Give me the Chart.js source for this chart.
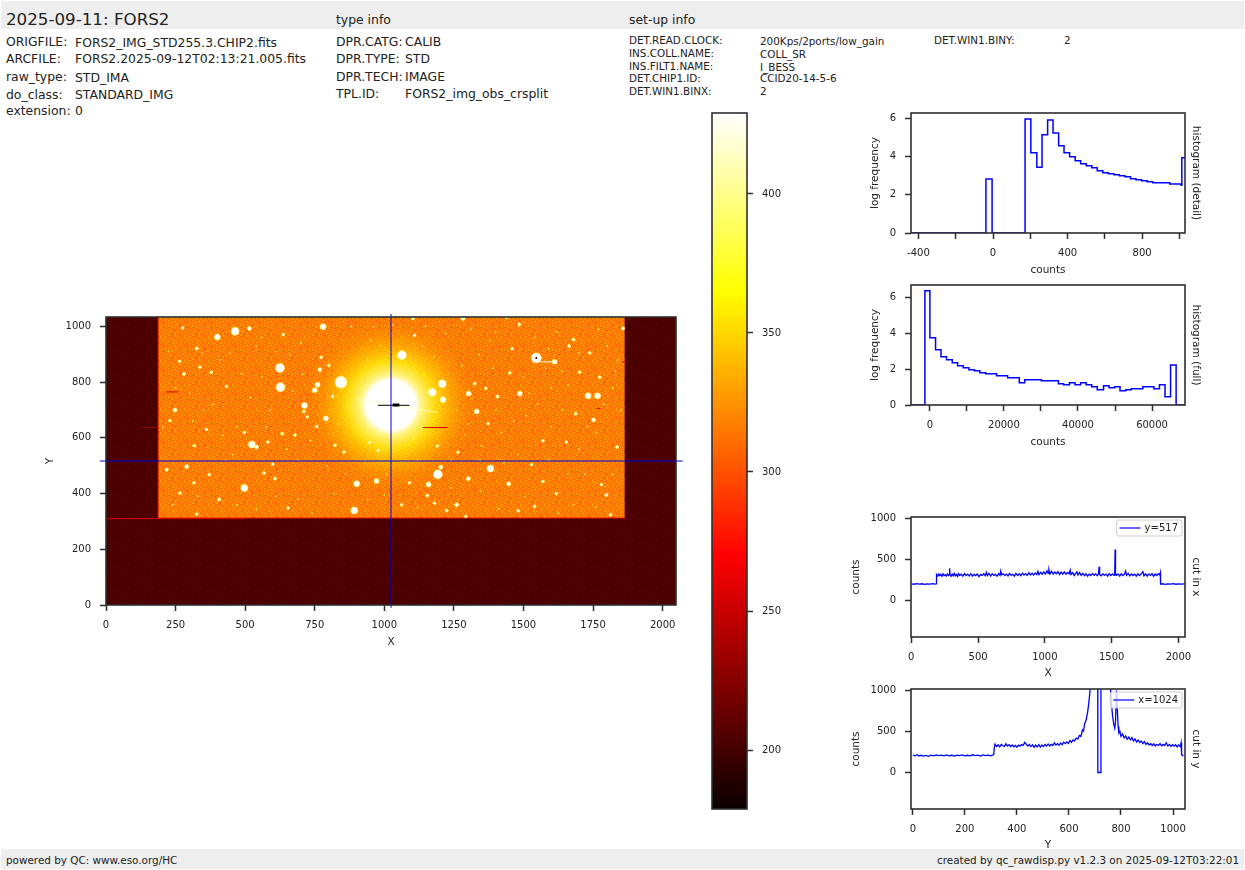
<!DOCTYPE html>
<html>
<head>
<meta charset="utf-8">
<script src="https://cdn.jsdelivr.net/npm/chart.js@4"></script>
<style>
html,body{margin:0;padding:0;background:#fff;width:1245px;height:870px;overflow:hidden;font-family:"DejaVu Sans",sans-serif;color:#222}
canvas{position:absolute}
.bar{position:absolute;left:1px;width:1243px;background:#eeeeee}
.t{position:absolute;white-space:pre;line-height:1}
</style>
</head>
<body>
<div class="bar" style="top:1px;height:28px"></div>
<div class="bar" style="top:849px;height:20px"></div>
<div id="texts"></div>
<canvas id="imagePlot"></canvas>
<canvas id="colorbar"></canvas>
<canvas id="histDetail"></canvas>
<canvas id="histFull"></canvas>
<canvas id="cutX"></canvas>
<canvas id="cutY"></canvas>
<script>
// texts of the header and footer
const headerTexts = [
  [6,18,16.7,'2025-09-11: FORS2'],[336,19,12.4,'type info'],[629,19,12.4,'set-up info'],
  [6,41,12.4,'ORIGFILE:'],[75,42,12.4,'FORS2_IMG_STD255.3.CHIP2.fits'],
  [6,58,12.4,'ARCFILE:'],[75,58,12.4,'FORS2.2025-09-12T02:13:21.005.fits'],
  [6,76,12.4,'raw_type:'],[75,77,12.4,'STD_IMA'],
  [6,94,12.4,'do_class:'],[75,94,12.4,'STANDARD_IMG'],
  [6,110,12.4,'extension:'],[75,110,12.4,'0'],
  [336,41,12.4,'DPR.CATG:'],[405,41,12.4,'CALIB'],
  [336,58,12.4,'DPR.TYPE:'],[405,58,12.4,'STD'],
  [336,76,12.4,'DPR.TECH:'],[405,76,12.4,'IMAGE'],
  [336,93,12.4,'TPL.ID:'],[405,93,12.4,'FORS2_img_obs_crsplit'],
  [629,39,10.4,'DET.READ.CLOCK:'],[760,40,10.4,'200Kps/2ports/low_gain'],
  [629,52,10.4,'INS.COLL.NAME:'],[760,53,10.4,'COLL_SR'],
  [629,65,10.4,'INS.FILT1.NAME:'],[760,66,10.4,'I_BESS'],
  [629,77,10.4,'DET.CHIP1.ID:'],[760,77,10.4,'CCID20-14-5-6'],
  [629,90,10.4,'DET.WIN1.BINX:'],[760,90,10.4,'2'],
  [934,39,10.4,'DET.WIN1.BINY:'],[1064,39,10.4,'2'],
  [6,859,10.4,'powered by QC: www.eso.org/HC']
];
const footerRight = 'created by qc_rawdisp.py v1.2.3 on 2025-09-12T03:22:01';

// image panel
const imageXTicks = [0,250,500,750,1000,1250,1500,1750,2000];
const imageYTicks = [0,200,400,600,800,1000];
const chipCorners = [[0,1034],[2048,1034]];
const chipBase = 0;
const litCorners = [[187,1034],[1864,1034]];
const litBase = 312;
const cutRow = 517;
const cutColumn = 1024;
const crossRow = [[-22,517],[2072,517]];
const crossColumn = [[1024,-10],[1024,1045]];
const glowCentre = [[1024,718]];
// [x, y, peak counts]
const stars = [
  [464,983,4800],[400,962,2400],[515,993,1200],[780,999,2400],[625,851,6800],[627,782,6800],[844,800,19000],
  [760,791,1700],[750,771,1700],[768,845,1200],[713,716,2400],[790,670,1700],[711,695,900],[248,700,1200],
  [280,830,900],[326,921,900],[338,854,800],[524,576,3400],[541,567,1200],[290,497,1200],[218,486,900],
  [497,420,3400],[901,435,2400],[972,445,1700],[892,339,3400],[407,379,900],[607,454,900],[582,585,800],
  [317,572,800],[633,615,800],[361,630,800],[723,675,800],[433,785,800],[378,836,800],[637,971,800],
  [326,326,800],[654,348,800],[568,474,800],[599,506,800],[371,468,800],[266,402,800],[316,439,800],
  [275,995,800],[265,875,800],[230,662,800],[801,860,800],[773,889,800],[814,749,800],[758,641,800],
  [679,610,800],[497,620,800],[855,549,800],[948,584,800],[823,573,800],[978,555,800],
  [1063,897,6800],[1208,794,4800],[1172,764,4800],[1211,737,2400],[1303,759,1700],[1332,695,1700],
  [1487,759,1700],[1546,887,9600],[1612,873,1700],[1732,751,2400],[1766,751,2400],[1752,665,1200],
  [1688,687,900],[1192,469,6800],[1159,433,1700],[1203,495,1200],[1381,490,3400],[1302,453,1200],
  [1447,435,1200],[1260,360,1200],[1155,393,900],[1837,567,900],[1798,395,900],[1780,432,800],
  [1485,1007,900],[1680,953,900],[1664,930,900],[1738,905,800],[1459,920,800],[1407,749,900],
  [1283,1029,1200],[1103,1029,900],[1439,1032,800],[1858,993,900],[1529,504,800],[1224,339,800],
  [1540,354,800],[1618,400,800],[1570,443,800],[1570,590,800],[1108,968,800],[1325,795,800],[1365,778,800],
  [1451,833,800],[1702,836,800],[1774,818,800],[1191,571,800],[1265,548,800],[1373,651,800],[1654,585,800],
  [1813,324,800],[1481,338,800],[1293,318,800],[1091,439,800],[1062,360,800],[1181,366,800]
];
const faintStars = [
  [205,640],[300,760],[352,700],[410,880],[445,905],[470,640],[520,745],[560,820],[590,700],[660,900],
  [690,520],[240,360],[330,390],[430,520],[470,360],[540,345],[610,390],[690,380],[740,330],[820,400],
  [860,470],[930,520],[1000,395],[1120,350],[1240,420],[1290,610],[1350,570],[1420,620],[1480,540],
  [1510,680],[1550,720],[1600,640],[1640,700],[1700,560],[1720,470],[1680,360],[1760,350],[1820,470],
  [1840,880],[1800,930],[1620,980],[1540,960],[1400,980],[1340,900],[1280,860],[1390,850],[1500,820],
  [1660,790],[1820,780],[1850,700],[1760,620],[1600,780],[950,950],[880,1000],[700,940],[560,960],
  [225,910],[250,780],[312,660],[345,905],[385,720],[420,610],[455,540],[488,830],[540,930],[575,640],
  [610,910],[650,560],[670,770],[705,830],[735,590],[795,500],[835,650],[870,710],[905,620],[940,880],
  [985,930],[1030,1005],[1135,930],[1180,890],[1220,975],[1260,700],[1300,650],[1345,520],[1400,700],
  [1430,510],[1465,660],[1505,390],[1590,520],[1625,330],[1660,470],[1730,640],[1790,720],[1830,840],
  [1770,990],[1700,905],[1590,920],[1500,1015],[1380,950],[1310,990],[1410,345],[1345,410],[1580,850],
  [1640,840],[1520,760],[1120,520],[1240,520],[1105,600],[1150,1000],[960,1000],[1010,470],[940,380]
];
const starTrail = [[1546,873],[1612,873]];
const spikeLeft = [[895,738],[1000,722]];
const spikeRight = [[1060,712],[1190,692]];
const saturatedRow = [[977,717],[1090,717]];
const saturatedBlob = [[1030,718],[1054,718]];
const saturatedDot = [[1546,887]];
const defectRows = [
  [[215,765],[260,765]],[[122,637],[187,637]],[[1139,637],[1228,637]],
  [[1763,705],[1775,705]],[[1853,873],[1865,873]],[[0,310],[500,310]]
];
const litEdge = [[1864,312],[187,312],[187,1034]];

// colour bar
const colorbarRange = [178.8,429.1];
const colorbarTicks = [200,250,300,350,400];
const hotValues = [178.8,270,365,429.1];
const hotColors = ['#0a0000','#ff0000','#ffff00','#ffffff'];

// histogram (detail): [left edge of bin, log frequency]
const detailBins = [
  [-440,0],[-38,2.82],[-5,0],[172,5.95],[203,4.19],[235,3.44],[263,5.13],[293,5.9],[322,5.23],[352,4.56],
  [381,4.19],[411,3.98],[441,3.77],[470,3.62],[500,3.51],[530,3.41],[559,3.25],[589,3.15],[619,3.09],
  [649,3.04],[678,2.99],[708,2.94],[738,2.83],[767,2.78],[797,2.73],[827,2.68],[857,2.62],[918,2.62],
  [948,2.56],[1009,2.5],[1013,3.93],[1030,3.93]
];
const detailXTicks = [-400,-200,0,200,400,600,800,1000];
const detailXLabels = ['-400','','0','','400','','800',''];
const detailYTicks = [0,2,4,6];

// histogram (full)
const fullBins = [
  [-5100,0],[-1350,6.35],[0,3.74],[1530,3.07],[3000,2.68],[4500,2.52],[6040,2.35],[7480,2.18],[9000,2.07],
  [10540,1.96],[12000,1.91],[13500,1.79],[15050,1.74],[18000,1.63],[19550,1.63],[21000,1.52],[24150,1.24],
  [25600,1.41],[30100,1.35],[34700,1.18],[36100,1.13],[37700,1.24],[39200,1.13],[40700,1.24],[42200,1.13],
  [43700,1.02],[45200,0.85],[46900,1.07],[48400,0.96],[49900,1.02],[51350,0.79],[52900,0.85],[54400,0.91],
  [57500,1.02],[60500,0.91],[62000,1.13],[63500,0.46],[65000,2.22],[66500,0],[68900,0]
];
const fullXTicks = [0,10000,20000,30000,40000,50000,60000];
const fullXLabels = ['0','','20000','','40000','','60000'];
const fullYTicks = [0,2,4,6];

// cut along the row y=517
const cutXProfile = [
  [0,203],[20,198],[40,205],[60,199],[80,204],[100,197],[120,203],[140,199],[160,205],[180,200],[186,202],
  [188,290],[190,318],[198,298],[206,322],[214,302],[222,318],[230,296],[238,325],[246,305],[254,316],
  [262,298],[270,324],[278,306],[284,318],[287,392],[290,312],[298,296],[306,322],[314,300],[322,330],
  [330,302],[338,318],[346,294],[354,326],[362,304],[374,320],[386,298],[398,328],[410,304],[422,322],
  [434,300],[446,326],[458,296],[470,318],[482,304],[494,322],[506,292],[518,316],[530,306],[542,326],
  [554,302],[562,344],[570,304],[582,330],[594,298],[606,326],[618,306],[630,318],[642,296],[654,328],
  [664,306],[670,358],[676,312],[688,328],[700,304],[712,322],[724,300],[736,330],[748,306],[760,320],
  [772,298],[784,330],[796,306],[808,326],[820,304],[832,334],[844,310],[856,328],[868,306],[880,338],
  [892,312],[904,332],[916,310],[928,336],[940,316],[948,356],[956,316],[968,344],[980,320],[992,350],
  [1004,322],[1016,362],[1024,330],[1030,376],[1038,324],[1050,356],[1062,322],[1074,348],[1086,326],
  [1098,352],[1110,318],[1122,346],[1134,322],[1146,350],[1158,320],[1170,342],[1182,326],[1190,370],
  [1196,316],[1208,340],[1220,304],[1232,334],[1240,350],[1248,310],[1260,342],[1272,306],[1284,330],
  [1296,302],[1308,326],[1320,298],[1332,322],[1344,304],[1356,330],[1368,306],[1380,324],[1392,302],
  [1402,330],[1406,412],[1410,316],[1422,300],[1434,326],[1446,306],[1458,322],[1470,298],[1482,328],
  [1494,304],[1506,324],[1518,306],[1523,330],[1526,622],[1529,330],[1536,308],[1548,324],[1560,298],
  [1572,326],[1584,304],[1596,322],[1604,360],[1612,306],[1624,330],[1636,300],[1648,324],[1660,304],
  [1672,322],[1684,298],[1696,326],[1708,304],[1720,322],[1734,352],[1742,302],[1754,326],[1766,298],
  [1778,324],[1790,306],[1802,328],[1814,296],[1826,322],[1838,304],[1850,326],[1860,310],[1864,338],
  [1866,200],[1880,204],[1900,197],[1920,203],[1940,199],[1960,205],[1980,198],[2000,203],[2020,199],[2048,202]
];
const cutXTicks = [0,500,1000,1500,2000];
const cutValueTicks = [0,500,1000];

// cut along the column x=1024
const cutYProfile = [
  [0,212],[8,204],[16,216],[24,202],[32,210],[40,200],[50,208],[60,198],[70,212],[80,204],[90,214],[100,206],
  [110,212],[120,202],[130,214],[140,204],[150,210],[160,200],[170,212],[180,206],[190,214],[200,202],
  [210,210],[220,204],[230,216],[240,206],[250,212],[260,200],[270,214],[280,206],[290,212],[300,204],
  [308,214],[311,218],[313,300],[316,345],[322,318],[328,338],[334,312],[340,342],[346,326],[352,318],
  [358,350],[364,322],[370,338],[376,316],[382,336],[388,314],[394,330],[400,308],[406,334],[412,322],
  [418,340],[424,330],[430,366],[436,344],[442,322],[448,342],[454,316],[460,338],[466,306],[472,334],
  [478,312],[484,340],[490,310],[496,336],[502,316],[508,342],[514,322],[520,348],[526,324],[532,344],
  [538,330],[544,362],[550,336],[556,352],[562,332],[568,360],[574,340],[580,370],[586,352],[592,372],
  [598,354],[604,392],[610,368],[616,398],[622,386],[628,420],[634,408],[640,452],[646,440],[652,520],
  [656,505],[660,590],[666,640],[672,740],[676,840],[680,960],[683,1150],[690,2600],[700,5200],[709,5200],
  [711,0],[721,0],[723,5200],[745,5200],[755,1500],[760,1000],[764,820],[768,680],[772,590],[776,540],
  [779,620],[783,1000],[786,760],[789,560],[792,480],[796,500],[800,440],[806,470],[812,420],[818,444],
  [824,405],[830,432],[836,398],[842,426],[848,384],[854,410],[860,372],[866,396],[872,366],[878,384],
  [884,352],[890,376],[896,342],[902,362],[908,336],[914,352],[920,330],[926,350],[932,324],[938,344],
  [944,330],[950,352],[956,326],[962,342],[968,328],[974,362],[980,324],[986,342],[992,318],[998,340],
  [1004,322],[1010,338],[1016,312],[1022,336],[1028,318],[1031,362],[1033,220],[1036,205],[1040,208]
];
const cutYTicks = [0,200,400,600,800,1000];

const ink = '#2f2f2f';
const lineBlue = '#0000ff';
const topRoom = 16; // room above each plot for the overhang chart.js keeps for the top tick label
Chart.defaults.font.family = '"DejaVu Sans"';
Chart.defaults.font.size = 10;
Chart.defaults.color = '#222';

// header
const holder = document.getElementById('texts');
headerTexts.forEach(([x,y,size,text]) => {
  const el = document.createElement('div');
  el.className = 't';
  el.textContent = text;
  el.style.cssText = `left:${x}px;top:${y-size/2+1}px;font-size:${size}px`;
  holder.appendChild(el);
});
const right = document.createElement('div');
right.className = 't';
right.textContent = footerRight;
right.style.cssText = 'right:6px;top:854.8px;font-size:10.4px';
holder.appendChild(right);

// grain of the CCD image, only a fill style
function grain(rows, palette) {
  const tile = document.createElement('canvas');
  tile.width = rows[0].length;
  tile.height = rows.length;
  const c = tile.getContext('2d');
  rows.forEach((row, j) => [...row].forEach((k, i) => {
    c.fillStyle = palette[+k];
    c.fillRect(i, j, 1, 1);
  }));
  return document.createElement('canvas').getContext('2d').createPattern(tile, 'repeat');
}
const grainRows = [
  '332243115233420362145323','214350234112335204431252','423126352443120233514306',
  '130233421305244312023441','352414203342130524331220','243105334216342013254134',
  '312342451023315342403213','025313240345212433120352','431223503124343102254313',
  '243340216352021334431025','120354321243350212304342','334212043315423140325213',
  '253431350224132433012434','412023243310352142345120','335241304523241032213354',
  '201332412134305243421023','342453023342120354132434','123120345213443201325312',
  '434312231450332124403221','250243413023214335120343','313421302345133402241536',
  '142033254312420313452102','324315120243351243013324','231243432105234320342411'
];
const litFill = grain(grainRows, ['#ff5c00','#ff6c00','#ff7600','#ff8200','#ff9000','#ffb000','#e83800']);
const darkFill = grain(grainRows, ['#400000','#460000','#4a0000','#4e0000','#540000','#5c0200','#440000']);

// keeps the plot rectangle where the reference has it
function frameBox(id, plot, yw, rw, xh) {
  const cv = document.getElementById(id);
  cv.width = plot.r - plot.l + yw + rw;
  cv.height = plot.b - plot.t + topRoom + xh;
  cv.style.left = (plot.l - yw) + 'px';
  cv.style.top = (plot.t - topRoom) + 'px';
  return cv;
}
// chart.js adds the tick label overhang on top of the padding, take it back out
function settle(chart, xh) {
  const pad = chart.config.options.layout.padding;
  for (let i = 0; i < 3; i++) {
    const a = chart.chartArea;
    pad.top = (pad.top || 0) - (a.top - topRoom);
    pad.bottom = (pad.bottom || 0) - ((chart.height - xh) - a.bottom);
    chart.update();
  }
}
const framePlugin = {
  id: 'frame',
  afterDraw(chart) {
    const a = chart.chartArea, c = chart.ctx;
    c.save();
    c.strokeStyle = ink;
    c.lineWidth = 1.6;
    c.strokeRect(a.left, a.top, a.right - a.left, a.bottom - a.top);
    c.restore();
  }
};
const cutLegend = {
  id: 'cutLegend',
  afterDatasetsDraw(chart) {
    const a = chart.chartArea, c = chart.ctx, label = chart.data.datasets[0].label;
    c.save();
    c.font = '10px "DejaVu Sans"';
    const w = c.measureText(label).width + 32, x = a.right - 3 - w, y = a.top + 3;
    c.beginPath();
    c.roundRect(x, y, w, 16, 2);
    c.fillStyle = 'rgba(255,255,255,0.8)';
    c.fill();
    c.strokeStyle = '#cccccc';
    c.lineWidth = 1;
    c.stroke();
    c.strokeStyle = lineBlue;
    c.lineWidth = 1.2;
    c.beginPath();
    c.moveTo(x + 3, y + 8);
    c.lineTo(x + 24, y + 8);
    c.stroke();
    c.fillStyle = '#222';
    c.textBaseline = 'middle';
    c.fillText(label, x + 28, y + 8.5);
    c.restore();
  }
};
function axis(min, max, ticks, labels, pos, size, title) {
  const vertical = pos === 'left' || pos === 'right';
  return {
    type: 'linear', position: pos, min, max,
    border: { display: false },
    grid: { display: true, drawOnChartArea: false, drawTicks: true, tickLength: 6, tickWidth: 1.5, tickColor: ink },
    ticks: {
      autoSkip: false, maxRotation: 0, padding: vertical ? 9 : 8,
      callback: (v) => { const i = ticks.indexOf(v); return labels ? labels[i] : String(v); }
    },
    afterBuildTicks: (s) => { s.ticks = ticks.map(value => ({ value })); },
    afterFit: (s) => { if (vertical) s.width = size; else s.height = size; },
    title: title ? { display: true, text: title, padding: 0, font: { size: 10.5 } } : { display: false }
  };
}
function sideAxis(min, max, title) {
  return {
    type: 'linear', position: 'right', min, max, display: true,
    border: { display: false }, grid: { display: false }, ticks: { display: false },
    afterFit: (s) => { s.width = 17; },
    title: { display: true, text: title, padding: 0, font: { size: 10.5 } }
  };
}
const points = (list) => list.map(([x, y]) => ({ x, y }));
function lineSet(list, color, width, order, extra) {
  return Object.assign({ type: 'scatter', data: points(list), showLine: true, borderColor: color,
    borderWidth: width, pointRadius: 0, order }, extra || {});
}
function baseOptions(padding, scales) {
  return {
    responsive: false, animation: false, events: [],
    layout: { autoPadding: false, padding },
    plugins: { legend: { display: false }, tooltip: { enabled: false }, title: { display: false } },
    scales
  };
}

// image panel
const plotImage = { l: 106, r: 676, t: 317, b: 605 };
frameBox('imagePlot', plotImage, 62, 12, 44);
const starRadius = (p) => Math.log2(p / 300);
const glowFill = (ctx) => {
  const ch = ctx.chart;
  if (!ch.chartArea) return 'transparent';
  const px = ch.scales.x.getPixelForValue(glowCentre[0][0]), py = ch.scales.y.getPixelForValue(glowCentre[0][1]);
  const g = ch.ctx.createRadialGradient(px, py, 0, px, py, 88);
  g.addColorStop(0, '#ffffff');
  g.addColorStop(0.28, '#ffffff');
  g.addColorStop(0.34, 'rgba(255,255,150,0.92)');
  g.addColorStop(0.5, 'rgba(255,255,20,0.72)');
  g.addColorStop(0.68, 'rgba(255,225,0,0.42)');
  g.addColorStop(0.85, 'rgba(255,180,0,0.16)');
  g.addColorStop(1, 'rgba(255,150,0,0)');
  return g;
};
const imageChart = new Chart(document.getElementById('imagePlot'), {
  type: 'scatter',
  data: { datasets: [
    lineSet(chipCorners, 'transparent', 0, 50, { fill: { value: chipBase }, backgroundColor: darkFill }),
    lineSet(litCorners, 'transparent', 0, 49, { fill: { value: litBase }, backgroundColor: litFill }),
    lineSet(litEdge, '#e00000', 1, 48),
    { data: points(faintStars), pointRadius: 0.9, pointBorderWidth: 0, pointBackgroundColor: '#ffec60', order: 47 },
    { data: points(glowCentre), pointRadius: 88, pointBorderWidth: 0, pointBackgroundColor: glowFill, order: 46 },
    lineSet(spikeLeft, 'rgba(255,255,190,0.9)', 1, 45),
    lineSet(spikeRight, 'rgba(255,255,190,0.9)', 1, 45),
    lineSet(starTrail, '#fffde0', 1, 44),
    { data: stars.map(([x, y]) => ({ x, y })), pointRadius: stars.map(s => starRadius(s[2])), pointBorderWidth: 1,
      pointBackgroundColor: '#ffffff', pointBorderColor: 'rgba(255,245,90,0.7)', order: 43 },
    ...defectRows.map((d, i) => lineSet(d, i === 1 ? '#8c0000' : '#d80000', 1, 42)),
    lineSet(saturatedRow, '#000000', 1, 41),
    lineSet(saturatedBlob, '#000000', 3, 41),
    { data: points(saturatedDot), pointRadius: 1, pointBorderWidth: 0, pointBackgroundColor: '#000', order: 41 },
    lineSet(crossRow, '#0000e0', 1, 40, { clip: false }),
    lineSet(crossColumn, '#0000e0', 1, 40, { clip: false })
  ] },
  options: baseOptions({ top: topRoom, right: 12 }, {
    x: axis(0, 2048, imageXTicks, null, 'bottom', 44, 'X'),
    y: axis(0, 1034, imageYTicks, null, 'left', 62, 'Y')
  }),
  plugins: [framePlugin]
});
settle(imageChart, 44);

// colour bar
const plotBar = { l: 712, r: 747, t: 113, b: 809 };
frameBox('colorbar', plotBar, 2, 44, 16);
const barFill = (ctx) => {
  const ch = ctx.chart;
  if (!ch.chartArea) return '#ff0000';
  const y = ch.scales.y, lo = y.getPixelForValue(colorbarRange[0]), hi = y.getPixelForValue(colorbarRange[1]);
  const g = ch.ctx.createLinearGradient(0, lo, 0, hi);
  hotValues.forEach((v, i) => g.addColorStop((v - colorbarRange[0]) / (colorbarRange[1] - colorbarRange[0]), hotColors[i]));
  return g;
};
const barChart = new Chart(document.getElementById('colorbar'), {
  type: 'bar',
  data: { labels: [''], datasets: [{ data: [colorbarRange], backgroundColor: barFill, borderWidth: 0,
    barPercentage: 1, categoryPercentage: 1 }] },
  options: baseOptions({ top: topRoom, left: 2, bottom: 16 }, {
    x: { display: false },
    y: axis(colorbarRange[0], colorbarRange[1], colorbarTicks, null, 'right', 44)
  }),
  plugins: [framePlugin]
});
settle(barChart, 16);

// histograms
function histogram(id, plot, bins, xr, yr, xTicks, xLabels, yTicks, side) {
  frameBox(id, plot, 42, 17, 44);
  const chart = new Chart(document.getElementById(id), {
    type: 'scatter',
    data: { datasets: [lineSet(bins, lineBlue, 1.5, 1, { stepped: 'before' })] },
    options: baseOptions({ top: topRoom }, {
      x: axis(xr[0], xr[1], xTicks, xLabels, 'bottom', 44, 'counts'),
      y: axis(yr[0], yr[1], yTicks, null, 'left', 42, 'log frequency'),
      y2: sideAxis(yr[0], yr[1], side)
    }),
    plugins: [framePlugin]
  });
  settle(chart, 44);
}
histogram('histDetail', { l: 911, r: 1185, t: 113, b: 233 }, detailBins, [-440, 1030], [0, 6.27],
  detailXTicks, detailXLabels, detailYTicks, 'histogram (detail)');
histogram('histFull', { l: 911, r: 1185, t: 285, b: 405 }, fullBins, [-5100, 68900], [0, 6.67],
  fullXTicks, fullXLabels, fullYTicks, 'histogram (full)');

// cuts
function cut(id, plot, profile, label, xr, xTicks, xTitle, side) {
  frameBox(id, plot, 61, 17, 43);
  const chart = new Chart(document.getElementById(id), {
    type: 'scatter',
    data: { datasets: [Object.assign(lineSet(profile, lineBlue, 1.3, 1), { label })] },
    options: baseOptions({ top: topRoom }, {
      x: axis(xr[0], xr[1], xTicks, null, 'bottom', 43, xTitle),
      y: axis(-445, 1018, cutValueTicks, null, 'left', 61, 'counts'),
      y2: sideAxis(-445, 1018, side)
    }),
    plugins: [cutLegend, framePlugin]
  });
  settle(chart, 43);
}
cut('cutX', { l: 911, r: 1185, t: 517, b: 637 }, cutXProfile, 'y=' + cutRow, [-2, 2049], cutXTicks, 'X', 'cut in x');
cut('cutY', { l: 911, r: 1185, t: 689, b: 809 }, cutYProfile, 'x=' + cutColumn, [-7, 1046], cutYTicks, 'Y', 'cut in y');
</script>
</body>
</html>
